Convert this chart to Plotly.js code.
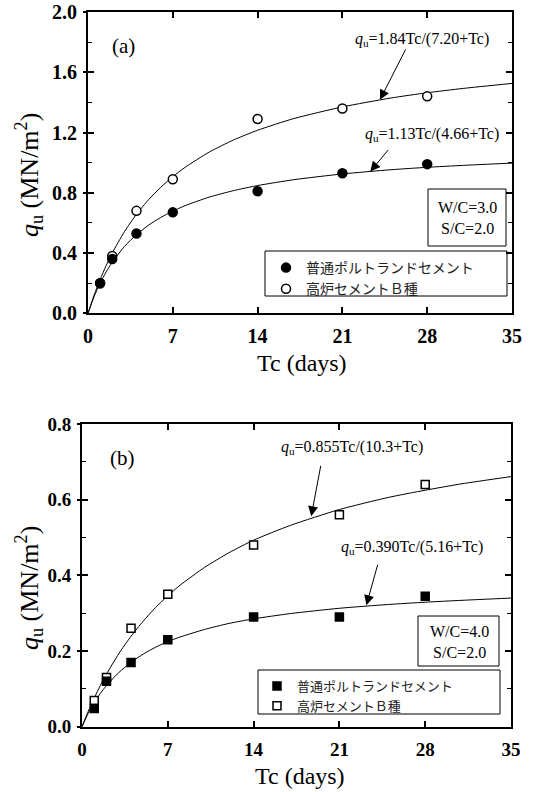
<!DOCTYPE html>
<html>
<head>
<meta charset="utf-8">
<script src="https://cdn.plot.ly/plotly-3.0.1.min.js"></script>
<style>html,body{margin:0;padding:0;background:#fff;}#chart{width:537px;height:792px;}</style>
</head>
<body>
<div id="chart"></div>
<script>
// ---- data ----
const days = [1, 2, 4, 7, 14, 21, 28];
const legendNames = ["普通ポルトランドセメント", "高炉セメントＢ種"];

// (a) W/C=3.0
const aOrdinary = [0.20, 0.36, 0.53, 0.67, 0.81, 0.93, 0.99];
const aBlast    = [0.20, 0.38, 0.68, 0.89, 1.29, 1.36, 1.44];
// (b) W/C=4.0
const bOrdinary = [0.048, 0.12, 0.17, 0.23, 0.29, 0.29, 0.345];
const bBlast    = [0.069, 0.13, 0.26, 0.35, 0.48, 0.56, 0.64];

// fitted curves
const curveX  = [0, 0.5, 1, 1.5, 2, 3, 4, 5, 6, 7, 8, 10, 12, 14, 17, 21, 25, 28, 31, 35];
const aFitBlast    = [0, 0.120, 0.224, 0.317, 0.400, 0.541, 0.657, 0.754, 0.836, 0.907, 0.968, 1.070, 1.150, 1.215, 1.293, 1.370, 1.429, 1.464, 1.493, 1.526];
const aFitOrdinary = [0, 0.110, 0.200, 0.275, 0.339, 0.443, 0.522, 0.585, 0.636, 0.678, 0.714, 0.771, 0.814, 0.848, 0.887, 0.925, 0.953, 0.969, 0.982, 0.997];
const bFitBlast    = [0, 0.040, 0.076, 0.109, 0.139, 0.193, 0.239, 0.279, 0.315, 0.346, 0.374, 0.421, 0.460, 0.493, 0.532, 0.574, 0.606, 0.625, 0.642, 0.661];
const bFitOrdinary = [0, 0.035, 0.063, 0.088, 0.109, 0.143, 0.170, 0.192, 0.210, 0.225, 0.237, 0.257, 0.273, 0.285, 0.299, 0.313, 0.323, 0.329, 0.334, 0.340];

const xTicks = [0, 7, 14, 21, 28, 35];
const eqA1 = "<i>q</i><sub>u</sub>=1.84Tc/(7.20+Tc)";
const eqA2 = "<i>q</i><sub>u</sub>=1.13Tc/(4.66+Tc)";
const eqB1 = "<i>q</i><sub>u</sub>=0.855Tc/(10.3+Tc)";
const eqB2 = "<i>q</i><sub>u</sub>=0.390Tc/(5.16+Tc)";
const boxA = "W/C=3.0<br>S/C=2.0";
const boxB = "W/C=4.0<br>S/C=2.0";
const xTitle = "Tc (days)";
const yTitle = "<i>q</i><sub>u</sub> (MN/m<sup>2</sup>)";

// ---- helpers ----
const W = 537, H = 792;
const px = v => v / W;
const py = v => 1 - v / H;
const SERIF = "Liberation Serif";
const CJK = "Noto Sans CJK JP";

function curve(x, y, xa, ya) {
  return {x: x, y: y, xaxis: xa, yaxis: ya, mode: "lines", type: "scatter",
    line: {color: "black", width: 1, shape: "spline", smoothing: 0.6},
    showlegend: false, hoverinfo: "skip"};
}
function pts(y, xa, ya, symbol, filled, name, leg, size, rank) {
  return {x: days, y: y, xaxis: xa, yaxis: ya, mode: "markers", type: "scatter",
    name: name, legend: leg, legendrank: rank,
    marker: {symbol: symbol, size: size, color: filled ? "black" : "white",
      line: {color: "black", width: 1.5}}};
}

const traces = [
  curve(curveX, aFitBlast, "x", "y"),
  curve(curveX, aFitOrdinary, "x", "y"),
  pts(aBlast, "x", "y", "circle", false, legendNames[1], "legend", 9, 2),
  pts(aOrdinary, "x", "y", "circle", true, legendNames[0], "legend", 9, 1),
  curve(curveX, bFitBlast, "x2", "y2"),
  curve(curveX, bFitOrdinary, "x2", "y2"),
  pts(bBlast, "x2", "y2", "square", false, legendNames[1], "legend2", 8, 2),
  pts(bOrdinary, "x2", "y2", "square", true, legendNames[0], "legend2", 8, 1),
  {x: [], y: [], xaxis: "x", yaxis: "y3", type: "scatter", mode: "markers", showlegend: false},
  {x: [], y: [], xaxis: "x2", yaxis: "y4", type: "scatter", mode: "markers", showlegend: false}
];

function tickFont(size) { return {family: SERIF, size: size, color: "black", weight: "bold"}; }
function xAxis(domain, anchor, fs) {
  return {domain: domain, anchor: anchor, range: [0, 35], tickvals: xTicks,
    ticks: "inside", ticklen: 6, tickwidth: 1.5, tickcolor: "black",
    showline: true, linewidth: 2, linecolor: "black", mirror: "ticks",
    showgrid: false, zeroline: false, tickfont: tickFont(fs), ticklabelstandoff: 4,
    fixedrange: true, automargin: false};
}
function yAxis(domain, anchor, range, dtick, fs) {
  return {domain: domain, anchor: anchor, range: range, dtick: dtick, tick0: 0,
    tickformat: ".1f", ticks: "inside", ticklen: 6, tickwidth: 1.5, tickcolor: "black",
    minor: {dtick: dtick / 2, ticks: "inside", ticklen: 4, tickwidth: 1, tickcolor: "black", showgrid: false},
    showline: true, linewidth: 2, linecolor: "black", mirror: "ticks",
    showgrid: false, zeroline: false, tickfont: tickFont(fs), ticklabelstandoff: 5,
    fixedrange: true, automargin: false};
}
function yOut(overlay, anchor, range, dtick) {
  return {overlaying: overlay, anchor: anchor, side: "left", range: range, dtick: dtick, tick0: 0,
    ticks: "outside", ticklen: 4, tickwidth: 1.5, tickcolor: "black",
    showticklabels: false, showline: false, showgrid: false, zeroline: false,
    fixedrange: true, automargin: false};
}

function txt(x, y, text, size, extra) {
  return Object.assign({xref: "paper", yref: "paper", x: px(x), y: py(y), text: text,
    showarrow: false, xanchor: "center", yanchor: "middle",
    font: {family: SERIF, size: size, color: "black"}}, extra || {});
}
function arrow(xr, yr, hx, hy, ax, ay) {
  return {xref: xr, yref: yr, x: hx, y: hy, text: " ", showarrow: true,
    ax: ax, ay: ay, axref: "pixel", ayref: "pixel",
    font: {family: SERIF, size: 2, color: "black"},
    arrowhead: 2, arrowsize: 2, arrowwidth: 1, arrowcolor: "black", standoff: 0, startstandoff: 0};
}

const annotations = [
  txt(123, 46, "(a)", 21),
  txt(422, 40, eqA1, 16),
  txt(432, 135, eqA2, 16),
  arrow("x", "y", 24.1, 1.417, 27, -53),
  arrow("x", "y", 23.3, 0.941, 20, -24),
  txt(467, 218, boxA, 16),
  txt(302, 363, xTitle, 24),
  txt(29, 175, yTitle, 26, {textangle: -90}),

  txt(122, 458, "(b)", 21),
  txt(352, 447, eqB1, 16),
  txt(412, 547, eqB2, 16),
  arrow("x2", "y2", 18.7, 0.556, 10, -53),
  arrow("x2", "y2", 23.2, 0.321, 12, -43),
  txt(459, 642, boxB, 16),
  txt(300, 776, xTitle, 24),
  txt(29, 588, yTitle, 26, {textangle: -90})
];

const shapes = [
  {type: "rect", xref: "paper", yref: "paper", x0: px(428), x1: px(506), y0: py(246), y1: py(189), line: {color: "black", width: 1}},
  {type: "rect", xref: "paper", yref: "paper", x0: px(265), x1: px(507), y0: py(296), y1: py(251), line: {color: "black", width: 1}},
  {type: "rect", xref: "paper", yref: "paper", x0: px(418), x1: px(499), y0: py(666), y1: py(616), line: {color: "black", width: 1}},
  {type: "rect", xref: "paper", yref: "paper", x0: px(258), x1: px(500), y0: py(714), y1: py(670), line: {color: "black", width: 1}}
];

const legendCommon = {xanchor: "left", yanchor: "top", bgcolor: "rgba(0,0,0,0)", borderwidth: 0,
  font: {family: CJK, size: 14, color: "#222"}, tracegroupgap: 0, traceorder: "normal"};

const layout = {
  width: W, height: H,
  font: {family: SERIF, color: "black"},
  margin: {l: 0, r: 0, t: 0, b: 0, pad: 0},
  paper_bgcolor: "white", plot_bgcolor: "white",
  showlegend: true,
  xaxis: xAxis([px(88), px(512)], "y", 20),
  yaxis: yAxis([py(313.3), py(12)], "x", [0, 2], 0.4, 20),
  xaxis2: xAxis([px(82), px(511)], "y2", 19),
  yaxis2: yAxis([py(726.7), py(424)], "x2", [0, 0.8], 0.2, 19),
  yaxis3: yOut("y", "x", [0, 2], 0.4),
  yaxis4: yOut("y2", "x2", [0, 0.8], 0.2),
  legend: Object.assign({x: px(266), y: py(252)}, legendCommon),
  legend2: Object.assign({x: px(257), y: py(671)}, legendCommon, {font: {family: CJK, size: 13, color: "#222"}}),
  annotations: annotations,
  shapes: shapes
};

Plotly.newPlot("chart", traces, layout, {displayModeBar: false});
</script>
</body>
</html>
